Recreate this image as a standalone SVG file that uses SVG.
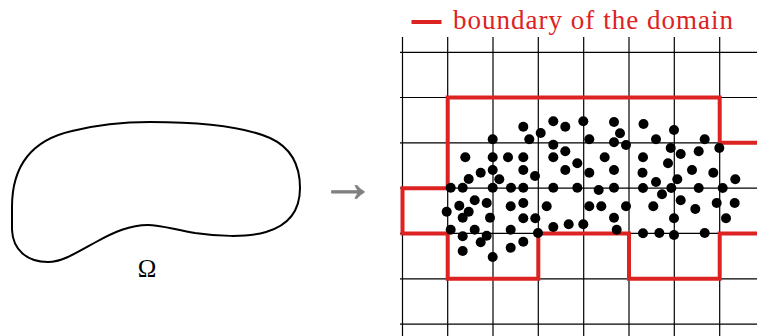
<svg xmlns="http://www.w3.org/2000/svg" width="757" height="336" viewBox="0 0 757 336">
<style>
.grid line{stroke:#000;stroke-width:1.2}
.bd{fill:none;stroke:#dd2222;stroke-width:4;stroke-linejoin:miter}
.pts circle{fill:#000}
.lbl{font-family:"Liberation Serif",serif}
</style>
<rect width="757" height="336" fill="#fff"/>
<g id="domain">
<path d="M 12,207 C 12,166 32,140 72,131 C 100,124 128,122 150,122 C 192,122 240,125 270,138 C 292,148 300,166 300,188 C 300,210 290,225 266,232 C 246,238 215,236 195,233 C 172,229 160,225 148,225 C 130,225 114,232 96,242 C 76,253 62,262 48,262 C 27,262 13,250 12,230 Z" fill="none" stroke="#000" stroke-width="2"/>
</g>
<g id="omega-label"><text class="lbl" x="147" y="277" font-size="25" text-anchor="middle">Ω</text></g>
<g id="arrow"><text x="348" y="200.5" font-family="Liberation Serif,serif" font-size="55" fill="#808080" stroke="#808080" stroke-width="0.7" text-anchor="middle">→</text></g>
<g id="grid" class="grid">
<line x1="402.5" y1="37" x2="402.5" y2="336"/>
<line x1="447.7" y1="37" x2="447.7" y2="336"/>
<line x1="493" y1="37" x2="493" y2="336"/>
<line x1="538.3" y1="37" x2="538.3" y2="336"/>
<line x1="583.7" y1="37" x2="583.7" y2="336"/>
<line x1="629" y1="37" x2="629" y2="336"/>
<line x1="674.3" y1="37" x2="674.3" y2="336"/>
<line x1="719.7" y1="37" x2="719.7" y2="336"/>
<line x1="400" y1="52.3" x2="757" y2="52.3"/>
<line x1="400" y1="97.5" x2="757" y2="97.5"/>
<line x1="400" y1="142.8" x2="757" y2="142.8"/>
<line x1="400" y1="188.2" x2="757" y2="188.2"/>
<line x1="400" y1="233.4" x2="757" y2="233.4"/>
<line x1="400" y1="278.8" x2="757" y2="278.8"/>
<line x1="400" y1="324.1" x2="757" y2="324.1"/>
</g>
<g id="boundary">
<polyline class="bd" points="757,142.8 719.7,142.8 719.7,97.5 447.7,97.5 447.7,188.2 402.5,188.2 402.5,233.4 447.7,233.4 447.7,278.8 538.3,278.8 538.3,233.4 629,233.4 629,278.8 719.7,278.8 719.7,233.4 757,233.4"/>
</g>
<g id="points" class="pts">
<circle cx="523.3" cy="126.7" r="5"/><circle cx="540.7" cy="133" r="5"/><circle cx="529.3" cy="139.3" r="5"/><circle cx="492.7" cy="139.3" r="5"/>
<circle cx="465.3" cy="157.3" r="5"/><circle cx="492.7" cy="157.3" r="5"/><circle cx="508" cy="157.3" r="5"/><circle cx="523.3" cy="157.3" r="5"/>
<circle cx="492.7" cy="170" r="5"/><circle cx="523.3" cy="170" r="5"/><circle cx="480.7" cy="172.7" r="5"/><circle cx="499.3" cy="179.3" r="5"/>
<circle cx="468.7" cy="179" r="5"/><circle cx="535" cy="176" r="5"/><circle cx="450.7" cy="187.8" r="5"/><circle cx="462.7" cy="187.8" r="5"/>
<circle cx="492.7" cy="187.8" r="5"/><circle cx="511" cy="187.8" r="5"/><circle cx="523.3" cy="187.8" r="5"/>
<circle cx="553.3" cy="121.3" r="5"/><circle cx="565.3" cy="126.7" r="5"/><circle cx="583.3" cy="121.3" r="5"/><circle cx="614" cy="122" r="5"/>
<circle cx="620" cy="133.3" r="5"/><circle cx="643.5" cy="124" r="5"/><circle cx="589.3" cy="139.3" r="5"/><circle cx="614" cy="142.3" r="5"/>
<circle cx="626" cy="145" r="5"/><circle cx="553.3" cy="144.7" r="5"/><circle cx="565.3" cy="151.3" r="5"/><circle cx="553.3" cy="157.3" r="5"/>
<circle cx="577.3" cy="163.3" r="5"/><circle cx="604.7" cy="157.3" r="5"/><circle cx="565.3" cy="170" r="5"/><circle cx="589.3" cy="172.7" r="5"/>
<circle cx="614" cy="170" r="5"/><circle cx="643" cy="157.3" r="5"/><circle cx="642.5" cy="172.7" r="5"/>
<circle cx="553.3" cy="187.8" r="5"/><circle cx="577.3" cy="187.8" r="5"/><circle cx="598.7" cy="190" r="5"/><circle cx="614" cy="187.8" r="5"/><circle cx="643" cy="188" r="5"/>
<circle cx="674" cy="130" r="5"/><circle cx="656" cy="139.3" r="5"/><circle cx="704.7" cy="139.3" r="5"/><circle cx="670.7" cy="148" r="5"/>
<circle cx="680.7" cy="154" r="5"/><circle cx="698.7" cy="151.3" r="5"/><circle cx="719.3" cy="148" r="5"/><circle cx="668" cy="163.3" r="5"/>
<circle cx="692" cy="170" r="5"/><circle cx="713.3" cy="172.7" r="5"/><circle cx="735.3" cy="179.3" r="5"/><circle cx="656" cy="182" r="5"/>
<circle cx="677.3" cy="179.3" r="5"/><circle cx="671.3" cy="188" r="5"/><circle cx="698.7" cy="188" r="5"/><circle cx="722.7" cy="188" r="5"/>
<circle cx="474.7" cy="200.3" r="5"/><circle cx="486.7" cy="203" r="5"/><circle cx="459.3" cy="205.7" r="5"/><circle cx="510.7" cy="206.3" r="5"/>
<circle cx="523.3" cy="203" r="5"/><circle cx="446.7" cy="211.7" r="5"/><circle cx="468.7" cy="211.7" r="5"/><circle cx="462.7" cy="217.7" r="5"/>
<circle cx="490" cy="217.7" r="5"/><circle cx="523.3" cy="218.3" r="5"/><circle cx="535.3" cy="218.3" r="5"/><circle cx="450.7" cy="229.7" r="5"/>
<circle cx="474.7" cy="229.7" r="5"/><circle cx="510.7" cy="229.7" r="5"/><circle cx="486.7" cy="235.7" r="5"/><circle cx="462.7" cy="236.3" r="5"/>
<circle cx="480.7" cy="242.3" r="5"/><circle cx="523.3" cy="241.7" r="5"/><circle cx="538" cy="233" r="5"/><circle cx="510.7" cy="247.7" r="5"/>
<circle cx="462.7" cy="251" r="5"/><circle cx="492.7" cy="257" r="5"/>
<circle cx="546.7" cy="206.3" r="5"/><circle cx="589.3" cy="206.3" r="5"/><circle cx="601.3" cy="206.3" r="5"/><circle cx="626" cy="206.3" r="5"/>
<circle cx="614" cy="217.7" r="5"/><circle cx="553.3" cy="227" r="5"/><circle cx="568.7" cy="224.3" r="5"/><circle cx="583.3" cy="224.3" r="5"/>
<circle cx="616.7" cy="229.7" r="5"/><circle cx="643" cy="233.3" r="5"/>
<circle cx="662" cy="194.3" r="5"/><circle cx="680.7" cy="200.3" r="5"/><circle cx="653.3" cy="206.3" r="5"/><circle cx="695.3" cy="209" r="5"/>
<circle cx="716.7" cy="203" r="5"/><circle cx="734.7" cy="203" r="5"/><circle cx="674" cy="218.3" r="5"/><circle cx="726" cy="218.3" r="5"/>
<circle cx="659.3" cy="233" r="5"/><circle cx="674" cy="235" r="5"/><circle cx="704.7" cy="233" r="5"/>
</g>
<g id="legend">
<line x1="411.5" y1="22" x2="441.5" y2="22" stroke="#dd2222" stroke-width="4"/>
<text class="lbl" x="453" y="29.3" font-size="27" fill="#dd2222" textLength="280" lengthAdjust="spacing">boundary of the domain</text>
</g>
</svg>
